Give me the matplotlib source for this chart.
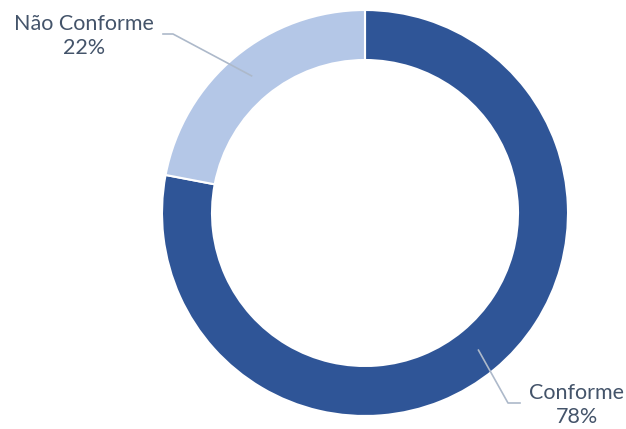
import numpy as np
import matplotlib
matplotlib.use("Agg")
import matplotlib.pyplot as plt

labels = ["Conforme", "Não Conforme"]
values = [78, 22]
colors = ["#2F5597", "#B4C7E7"]

W, H = 626, 429
cx, cy = 365, 216
r_out, ring = 203, 50

fig = plt.figure(figsize=(W / 100, H / 100), dpi=100)
ax = fig.add_axes([0, 0, 1, 1])

wedges, _ = ax.pie(values, colors=colors, startangle=90, counterclock=False,
                   center=(cx, cy), radius=r_out, frame=True,
                   wedgeprops=dict(width=ring, edgecolor="white", linewidth=1.5))
ax.set_xlim(0, W)
ax.set_ylim(0, H)
ax.set_aspect("equal")
ax.axis("off")

txt_color = "#44546A"
line_color = "#ADB9CA"
r_mid = r_out - ring / 2
# (text x, text y, elbow x, elbow y, line end x)
label_pos = [(577, 24, 508, 26, 520), (84, 393, 173, 395, 163)]
for w, val, lab, (tx, ty, ex, ey, lx) in zip(wedges, values, labels, label_pos):
    ang = np.deg2rad((w.theta1 + w.theta2) / 2)
    px, py = cx + r_mid * np.cos(ang), cy + r_mid * np.sin(ang)
    ax.plot([px, ex, lx], [py, ey, ey], color=line_color, lw=1.2)
    ax.text(tx, ty, f"{lab}\n{val}%", ha="center", va="center", color=txt_color,
            fontsize=15.5, family=["Lato", "DejaVu Sans"], linespacing=1.25)

fig.savefig("out.png", dpi=100)
